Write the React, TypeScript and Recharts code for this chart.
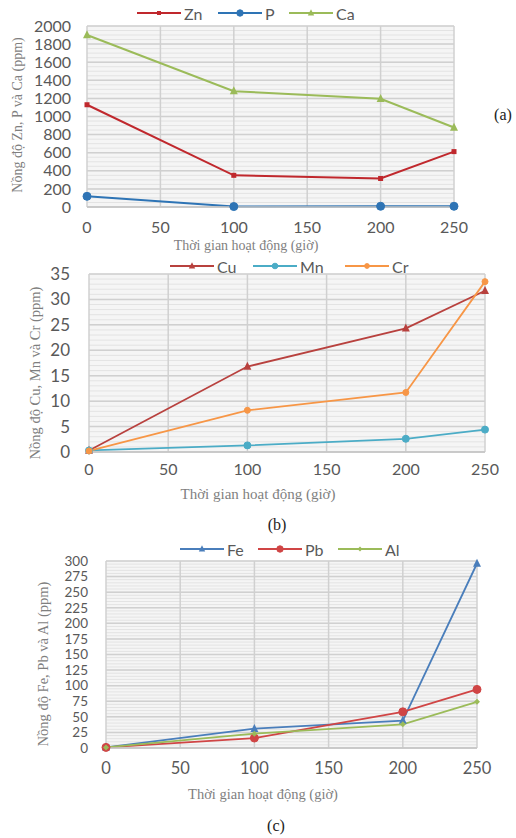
import React from 'react';
import { LineChart, Line, XAxis, YAxis, CartesianGrid } from 'recharts';

const hours = [0, 100, 200, 250];
const xTicks = [0, 50, 100, 150, 200, 250];

const znValues = [1130, 350, 315, 612];
const pValues = [118, 5, 8, 8];
const caValues = [1900, 1280, 1195, 878];
const yTicksA = [0, 200, 400, 600, 800, 1000, 1200, 1400, 1600, 1800, 2000];
const minorA = Array.from({ length: 41 }, (_, i) => i * 50);

const cuValues = [0.3, 16.8, 24.3, 31.7];
const mnValues = [0.3, 1.3, 2.6, 4.4];
const crValues = [0.2, 8.2, 11.7, 33.5];
const yTicksB = [0, 5, 10, 15, 20, 25, 30, 35];
const minorB = Array.from({ length: 36 }, (_, i) => i);

const feValues = [1, 31, 44, 296];
const pbValues = [1, 16, 58, 94];
const alValues = [1, 23, 38, 74];
const yTicksC = [0, 25, 50, 75, 100, 125, 150, 175, 200, 225, 250, 275, 300];
const minorC = Array.from({ length: 61 }, (_, i) => i * 5);

const xTitle = 'Thời gian hoạt động (giờ)';

type Shape = 'circle' | 'square' | 'triangle' | 'diamond';
type Series = { key: string; name: string; values: number[]; color: string; shape: Shape; r: number; width: number };

const seriesA: Series[] = [
  { key: 'zn', name: 'Zn', values: znValues, color: '#C0282D', shape: 'square', r: 2.5, width: 2 },
  { key: 'p', name: 'P', values: pValues, color: '#2E74B5', shape: 'circle', r: 4, width: 2 },
  { key: 'ca', name: 'Ca', values: caValues, color: '#9BBB59', shape: 'triangle', r: 4, width: 2 },
];
const seriesB: Series[] = [
  { key: 'cu', name: 'Cu', values: cuValues, color: '#B8413E', shape: 'triangle', r: 4, width: 1.8 },
  { key: 'mn', name: 'Mn', values: mnValues, color: '#4BACC6', shape: 'circle', r: 3.5, width: 1.8 },
  { key: 'cr', name: 'Cr', values: crValues, color: '#F79646', shape: 'circle', r: 3, width: 1.8 },
];
const seriesC: Series[] = [
  { key: 'fe', name: 'Fe', values: feValues, color: '#4A7EBB', shape: 'triangle', r: 4, width: 1.8 },
  { key: 'pb', name: 'Pb', values: pbValues, color: '#D04545', shape: 'circle', r: 4, width: 1.8 },
  { key: 'al', name: 'Al', values: alValues, color: '#9BBB59', shape: 'diamond', r: 3, width: 1.8 },
];

const buildRows = (series: Series[]) =>
  hours.map((h, i) => {
    const row: Record<string, number> = { h };
    series.forEach((s) => (row[s.key] = s.values[i]));
    return row;
  });

const Marker = ({ cx, cy, shape, r, color }: { cx: number; cy: number; shape: Shape; r: number; color: string }) => {
  if (shape === 'circle') return <circle cx={cx} cy={cy} r={r} fill={color} stroke={color} />;
  if (shape === 'square') return <rect x={cx - r} y={cy - r} width={2 * r} height={2 * r} fill={color} />;
  if (shape === 'diamond')
    return <path d={`M${cx},${cy - r} L${cx + r},${cy} L${cx},${cy + r} L${cx - r},${cy} Z`} fill={color} />;
  return <path d={`M${cx},${cy - r * 1.2} L${cx + r},${cy + r * 0.8} L${cx - r},${cy + r * 0.8} Z`} fill={color} />;
};

const makeDot = (s: Series) => (props: any) => {
  const { cx, cy, index } = props;
  if (cx == null || cy == null) return <g key={`${s.key}-${index}`} />;
  return (
    <g key={`${s.key}-${index}`}>
      <Marker cx={cx} cy={cy} shape={s.shape} r={s.r} color={s.color} />
    </g>
  );
};

const tickStyle = (size: number) => ({ fontFamily: 'Lato, "Open Sans", sans-serif', fontSize: size, fill: '#595959' });

const minorGenerator = (minor: number[], domain: [number, number]) => (args: any) => {
  const y = args?.yAxis;
  if (y && typeof y.scale === 'function') return minor.map((v) => y.scale(v));
  if (y && y.scale && typeof y.scale.map === 'function') return minor.map((v) => y.scale.map(v));
  const off = args.offset;
  return minor.map((v) => off.top + off.height * (1 - (v - domain[0]) / (domain[1] - domain[0])));
};

type PanelProps = {
  series: Series[];
  top: number;
  height: number;
  margin: { top: number; right: number; bottom: number; left: number };
  yWidth: number;
  yDomain: [number, number];
  yTicks: number[];
  minor: number[];
  xTickMargin: number;
  yTickMargin: number;
  yFont: number;
  xFont: number;
};

const Panel = ({ series, top, height, margin, yWidth, yDomain, yTicks, minor, xTickMargin, yTickMargin, yFont, xFont }: PanelProps) => (
  <div style={{ position: 'absolute', left: 0, top }}>
    <LineChart width={516} height={height} data={buildRows(series)} margin={margin}>
      <CartesianGrid
        vertical={false}
        stroke="#E3E3E3"
        strokeWidth={1}
        fill="#F5F5F5"
        horizontalCoordinatesGenerator={minorGenerator(minor, yDomain)}
      />
      <CartesianGrid stroke="#D0D0D0" strokeWidth={1.5} />
      <XAxis
        dataKey="h"
        type="number"
        domain={[0, 250]}
        ticks={xTicks}
        tickLine={false}
        tickSize={0}
        tickMargin={xTickMargin}
        axisLine={{ stroke: '#C4C4C4', strokeWidth: 1.5 }}
        tick={tickStyle(xFont)}
        height={30}
        interval={0}
      />
      <YAxis
        type="number"
        domain={yDomain}
        ticks={yTicks}
        tickLine={false}
        tickSize={0}
        tickMargin={yTickMargin}
        axisLine={false}
        tick={tickStyle(yFont)}
        width={yWidth}
        interval={0}
      />
      {series.map((s) => (
        <Line
          key={s.key}
          dataKey={s.key}
          name={s.name}
          stroke={s.color}
          strokeWidth={s.width}
          dot={makeDot(s)}
          activeDot={false}
          isAnimationActive={false}
          type="linear"
        />
      ))}
    </LineChart>
  </div>
);

const LegendRow = ({ series, top, lefts }: { series: Series[]; top: number; lefts: number[] }) => (
  <>
    {series.map((s, i) => (
      <div
        key={s.key}
        style={{
          position: 'absolute',
          left: lefts[i],
          top: top - 10,
          height: 20,
          display: 'flex',
          alignItems: 'center',
          fontFamily: 'Lato, "Open Sans", sans-serif',
          fontSize: 16,
          color: '#595959',
          whiteSpace: 'nowrap',
        }}
      >
        <svg width={44} height={12} style={{ marginRight: 3 }}>
          <line x1={0} y1={6} x2={44} y2={6} stroke={s.color} strokeWidth={2} />
          <Marker cx={22} cy={6} shape={s.shape} r={s.r * 0.8} color={s.color} />
        </svg>
        {s.name}
      </div>
    ))}
  </>
);

const serif = '"Liberation Serif", "DejaVu Serif", serif';

const XTitle = ({ cx, cy, size }: { cx: number; cy: number; size: number }) => (
  <div
    style={{
      position: 'absolute',
      left: cx - 150,
      width: 300,
      top: cy - 10,
      textAlign: 'center',
      fontFamily: serif,
      fontSize: size,
      color: '#7F7F7F',
      whiteSpace: 'nowrap',
    }}
  >
    {xTitle}
  </div>
);

const YTitle = ({ cx, cy, size, text }: { cx: number; cy: number; size: number; text: string }) => (
  <div
    style={{
      position: 'absolute',
      left: cx - 150,
      top: cy - 10,
      width: 300,
      height: 20,
      lineHeight: '20px',
      textAlign: 'center',
      fontFamily: serif,
      fontSize: size,
      color: '#7F7F7F',
      whiteSpace: 'nowrap',
      transform: 'rotate(-90deg)',
    }}
  >
    {text}
  </div>
);

const Caption = ({ cx, cy, text }: { cx: number; cy: number; text: string }) => (
  <div
    style={{
      position: 'absolute',
      left: cx - 20,
      width: 40,
      top: cy - 11,
      textAlign: 'center',
      fontFamily: serif,
      fontSize: 16,
      color: '#222',
    }}
  >
    {text}
  </div>
);

export default function App() {
  return (
    <div style={{ position: 'absolute', left: 0, top: 0, width: 516, height: 838, background: '#fff', overflow: 'hidden' }}>
      <Panel
        series={seriesA}
        top={0}
        height={260}
        margin={{ top: 26, right: 62, bottom: 23, left: 0 }}
        yWidth={87}
        yDomain={[0, 2000]}
        yTicks={yTicksA}
        minor={minorA}
        xTickMargin={15}
        yTickMargin={16}
        yFont={16}
        xFont={16}
      />
      <Panel
        series={seriesB}
        top={260}
        height={280}
        margin={{ top: 14, right: 31, bottom: 58, left: 0 }}
        yWidth={89}
        yDomain={[0, 35]}
        yTicks={yTicksB}
        minor={minorB}
        xTickMargin={12}
        yTickMargin={19}
        yFont={17}
        xFont={16}
      />
      <Panel
        series={seriesC}
        top={540}
        height={298}
        margin={{ top: 21, right: 39, bottom: 60, left: 0 }}
        yWidth={106}
        yDomain={[0, 300]}
        yTicks={yTicksC}
        minor={minorC}
        xTickMargin={14}
        yTickMargin={18}
        yFont={13.5}
        xFont={16.5}
      />
      <LegendRow series={seriesA} top={13} lefts={[137, 218, 289]} />
      <LegendRow series={seriesB} top={266} lefts={[170, 253, 345]} />
      <LegendRow series={seriesC} top={549} lefts={[180, 258, 338]} />
      <XTitle cx={246} cy={248} size={14} />
      <XTitle cx={258} cy={496} size={15} />
      <XTitle cx={263} cy={796} size={14.5} />
      <YTitle cx={18} cy={115} size={14} text="Nồng độ Zn, P và Ca (ppm)" />
      <YTitle cx={35} cy={373} size={14.5} text="Nồng độ Cu, Mn và Cr (ppm)" />
      <YTitle cx={43} cy={664} size={14.5} text="Nồng độ Fe, Pb và Al (ppm)" />
      <Caption cx={503} cy={117} text="(a)" />
      <Caption cx={277} cy={527} text="(b)" />
      <Caption cx={276} cy={828} text="(c)" />
    </div>
  );
}
